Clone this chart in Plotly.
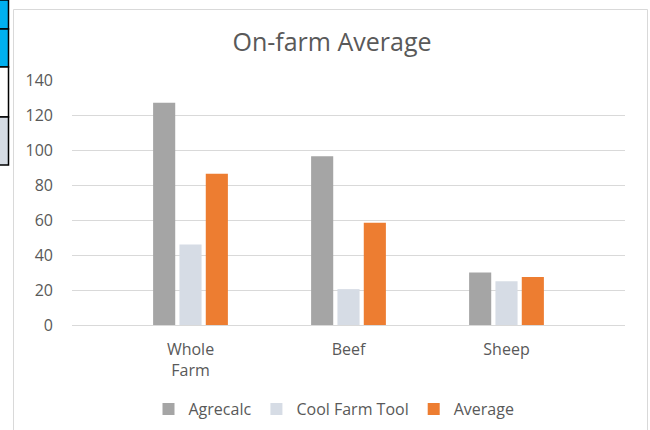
import plotly.graph_objects as go

categories = ["Whole<br>Farm", "Beef", "Sheep"]
agrecalc = [127, 96.5, 30]
cool_farm_tool = [46, 20.5, 25]
average = [86.5, 58.5, 27.5]
series_names = ["Agrecalc", "Cool Farm Tool", "Average"]
colors = ["#A5A5A5", "#D6DCE5", "#ED7D31"]
y_ticks = [0, 20, 40, 60, 80, 100, 120, 140]

W, H = 650, 430
L, R, T, B = 72, 25, 80, 105
pw, ph = W - L - R, H - T - B

def px(x):
    return (x - L) / pw

def py(y):
    return (H - B - y) / ph

fig = go.Figure()
for name, vals, c in zip(series_names, [agrecalc, cool_farm_tool, average], colors):
    fig.add_trace(go.Bar(x=[0, 1, 2], y=vals, name=name, marker=dict(color=c, line=dict(width=0))))

shapes = []
# chart border
shapes.append(dict(type="rect", xref="paper", yref="paper", x0=px(13.5), x1=px(647.5), y0=py(9.5), y1=py(445),
                   line=dict(color="#D9D9D9", width=1), fillcolor="rgba(0,0,0,0)", layer="below"))
# spreadsheet cells at left edge
cells = [(0, 29, "#00B0F0"), (29, 67, "#00B0F0"), (67, 117, "#FFFFFF"), (117, 165, "#D6DCE4")]
for y0, y1, fc in cells:
    shapes.append(dict(type="rect", xref="paper", yref="paper", x0=px(-2), x1=px(8.5), y0=py(y0), y1=py(y1),
                       line=dict(color="#000000", width=1.5), fillcolor=fc, layer="below"))

fig.update_layout(
    width=W, height=H,
    margin=dict(l=L, r=R, t=T, b=B, autoexpand=False),
    paper_bgcolor="white", plot_bgcolor="white",
    title=dict(text="On-farm Average", x=332 / W, xanchor="center", y=1 - 42 / H, yanchor="middle",
               font=dict(family="Open Sans", size=25, color="#595959")),
    barmode="group", bargap=0.5, bargroupgap=0.16,
    showlegend=True,
    legend=dict(orientation="h", xref="container", x=334 / W, xanchor="center",
                yref="container", y=1 - 409 / H, yanchor="middle",
                font=dict(family="Open Sans", size=16, color="#595959"), itemwidth=30,
                traceorder="normal"),
    xaxis=dict(tickmode="array", tickvals=[0, 1, 2], ticktext=categories, range=[-0.75, 2.75],
               showgrid=False, zeroline=False, showline=False, ticks="", automargin=False,
               tickfont=dict(family="Open Sans", size=16, color="#595959"), ticklabelstandoff=13),
    yaxis=dict(range=[0, 140], tickmode="array", tickvals=y_ticks, showgrid=True, gridcolor="#D9D9D9",
               gridwidth=1, zeroline=True, zerolinecolor="#D9D9D9", zerolinewidth=1, showline=False,
               ticks="", automargin=False, tickfont=dict(family="Open Sans", size=16, color="#595959"),
               ticklabelstandoff=18),
    shapes=shapes,
    font=dict(family="Open Sans"),
)

fig.write_html("out.html")
